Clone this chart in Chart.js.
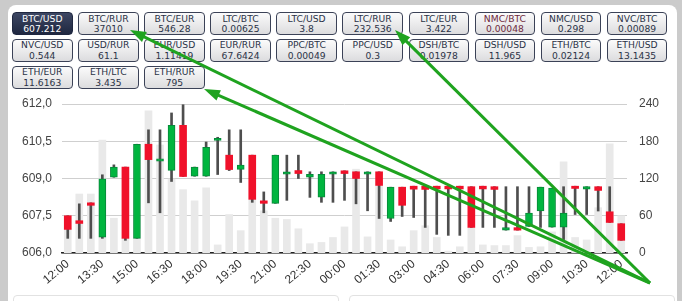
<!DOCTYPE html>
<html>
<head>
<meta charset="utf-8">
<script src="https://cdn.jsdelivr.net/npm/chart.js@4/dist/chart.umd.min.js"></script>
<style>
  html, body { margin:0; padding:0; }
  body { width:682px; height:301px; background:#cbcbcb; position:relative; overflow:hidden; font-family:"Liberation Sans", Arial, sans-serif; }
  #panel { position:absolute; left:8px; top:5px; width:669px; height:320px; background:#fff; border-radius:8px; }
  #buttons { position:absolute; left:12px; top:12px; display:grid; grid-template-columns:repeat(10, 60.5px); grid-auto-rows:23px; column-gap:5.6px; row-gap:3.8px; }
  .btn { box-sizing:border-box; border:1px solid #3b4257; border-radius:4px; background:linear-gradient(#fbfbfb, #dcdcde); color:#2b3347; font-family:"DejaVu Sans", Verdana, sans-serif; font-size:9.2px; line-height:10.5px; text-align:center; padding-top:0.5px; }
  .btn.sel { background:linear-gradient(#3d4763, #1f2740); color:#fff; border-color:#1f2740; }
  .btn.hot { color:#6e2a3c; }
  #chartbox { position:absolute; left:8px; top:95px; width:667px; height:200px; }
  .sub { position:absolute; top:295px; height:30px; background:#fff; border:1px solid #e2e2e2; border-radius:4px; }
  #arrows { position:absolute; left:0; top:0; width:682px; height:301px; pointer-events:none; }
</style>
</head>
<body>
<div id="panel"></div>
<div id="buttons"></div>
<div id="chartbox"><canvas id="c"></canvas></div>
<div class="sub" style="left:13px;width:324px;"></div>
<div class="sub" style="left:349px;width:324px;"></div>
<svg id="arrows" xmlns="http://www.w3.org/2000/svg"></svg>
<script>
// ---- data ----
const pairs = ["BTC/USD","BTC/RUR","BTC/EUR","LTC/BTC","LTC/USD","LTC/RUR","LTC/EUR","NMC/BTC","NMC/USD","NVC/BTC",
               "NVC/USD","USD/RUR","EUR/USD","EUR/RUR","PPC/BTC","PPC/USD","DSH/BTC","DSH/USD","ETH/BTC","ETH/USD",
               "ETH/EUR","ETH/LTC","ETH/RUR"];
const prices = ["607.212","37010","546.28","0.00625","3.8","232.536","3.422","0.00048","0.298","0.00089",
                "0.544","61.1","1.11419","67.6424","0.00049","0.3","0.01978","11.965","0.02124","13.1435",
                "11.6163","3.435","795"];

const times = ["12:00","12:30","13:00","13:30","14:00","14:30","15:00","15:30","16:00","16:30","17:00","17:30",
               "18:00","18:30","19:00","19:30","20:00","20:30","21:00","21:30","22:00","22:30","23:00","23:30",
               "00:00","00:30","01:00","01:30","02:00","02:30","03:00","03:30","04:00","04:30","05:00","05:30",
               "06:00","06:30","07:00","07:30","08:00","08:30","09:00","09:30","10:00","10:30","11:00","11:30","12:00"];

const openP  = [607.50,607.30,608.02,606.64,609.05,609.46,606.59,610.38,609.70,609.33,611.14,609.09,
                609.09,610.53,609.94,609.37,609.94,608.10,608.00,609.17,609.32,609.05,608.25,609.17,
                609.31,609.27,609.17,609.27,607.39,608.65,608.69,608.69,608.69,608.69,608.69,608.67,
                608.69,608.67,606.92,607.02,607.07,607.69,607.04,607.04,608.69,608.57,608.67,607.66,607.18];
const highP  = [607.50,607.98,608.02,609.15,609.55,609.46,610.38,610.96,610.96,611.64,611.97,609.46,
                610.47,610.66,610.96,610.96,609.94,608.46,609.94,609.94,609.94,609.27,609.27,609.27,
                609.31,609.27,609.27,609.27,608.65,608.65,608.69,608.69,608.69,608.69,608.69,608.67,
                608.69,608.67,608.67,608.67,608.67,608.65,608.61,608.67,608.69,608.67,608.67,608.67,607.18];
const lowP   = [606.59,606.59,606.59,606.59,609.05,606.51,606.59,608.02,607.62,608.88,609.08,609.09,
                609.09,609.16,609.32,608.84,608.04,607.62,608.00,608.12,609.00,608.24,608.04,608.04,
                608.12,607.98,607.70,607.39,607.27,607.47,607.43,607.03,606.75,606.71,606.71,607.03,
                607.03,607.03,606.92,606.92,607.07,607.03,607.04,606.54,607.55,607.55,607.69,607.23,606.51];
const closeP = [606.95,607.19,607.92,608.99,609.46,606.59,610.38,609.76,609.79,611.14,609.08,609.46,
                610.26,610.62,609.36,609.54,608.16,608.00,609.94,609.27,609.20,609.17,609.17,609.27,
                609.20,609.00,609.27,608.72,608.65,607.92,608.57,608.56,608.58,608.58,608.58,607.03,
                608.58,608.56,607.02,606.92,607.61,608.65,608.61,607.61,608.60,608.67,608.52,607.23,606.51];
const volume = [40,95,95,182,56,24,24,229,174,119,102,84,
                105,13,62,36,86,68,56,54,39,15,17,25,
                42,135,26,108,21,10,36,44,25,3,10,41,
                13,12,12,28,9,10,34,147,25,21,73,176,60];

const priceTicks = [606, 607.5, 609, 610.5, 612];
const volumeTicks = [0, 60, 120, 180, 240];

// ---- buttons ----
const bw = document.getElementById('buttons');
pairs.forEach((p, i) => {
  const d = document.createElement('div');
  d.className = 'btn' + (i === 0 ? ' sel' : '') + (p === 'NMC/BTC' ? ' hot' : '');
  d.innerHTML = p + '<br>' + prices[i];
  bw.appendChild(d);
});

// ---- chart ----
const up = (i) => closeP[i] >= openP[i];
const GREEN = '#00b53f', GREEN_B = '#07893a', RED = '#f0112a';
const noPad = (s) => { s.paddingTop = 0; s.paddingBottom = 0; s.paddingLeft = 0; s.paddingRight = 0; };

const chart = new Chart(document.getElementById('c'), {
  data: {
    labels: times,
    datasets: [
      { type:'bar', label:'Volume', yAxisID:'y1', data: volume, backgroundColor:'#e9e9e9',
        barThickness:7, grouped:false, order:3 },
      { type:'bar', label:'Wick', yAxisID:'y', data: times.map((_, i) => [lowP[i], highP[i]]),
        backgroundColor:'#4e4e4e', barThickness:2, grouped:false, order:2 },
      { type:'bar', label:'Body', yAxisID:'y', data: times.map((_, i) => [openP[i], closeP[i]]),
        backgroundColor: times.map((_, i) => up(i) ? GREEN : RED),
        borderColor: times.map((_, i) => up(i) ? GREEN_B : RED),
        borderWidth: times.map((_, i) => up(i) ? 1 : 0),
        borderSkipped:false, barThickness:7, grouped:false, order:1 }
    ]
  },
  options: {
    responsive:true, maintainAspectRatio:false, animation:false,
    layout:{ padding:{ top:9, left:0, right:0, bottom:0 } },
    plugins:{ legend:{ display:false }, tooltip:{ enabled:false } },
    scales:{
      x:{
        offset:true,
        grid:{ display:false, drawTicks:false },
        border:{ display:true, color:'#222', width:1.5 },
        ticks:{ autoSkip:false, maxRotation:40, minRotation:40, padding:4, color:'#333',
                font:{ family:'"Liberation Sans", Arial, sans-serif', size:12 },
                callback:function(v, i){ return i % 3 === 0 ? times[i] : ''; } },
        afterFit:(s) => { s.height = 42; noPad(s); }
      },
      y:{
        position:'left', min:606, max:612,
        grid:{ color:'#cfcfcf', drawTicks:false },
        border:{ display:false },
        afterBuildTicks:(s) => { s.ticks = priceTicks.map(v => ({ value:v })); },
        ticks:{ padding:10, color:'#444', font:{ family:'"Liberation Sans", Arial, sans-serif', size:12 },
                callback:(v) => v.toFixed(1).replace('.', ',') },
        afterFit:(s) => { s.width = 54; noPad(s); }
      },
      y1:{
        position:'right', min:0, max:240,
        grid:{ display:false, drawTicks:false },
        border:{ display:false },
        afterBuildTicks:(s) => { s.ticks = volumeTicks.map(v => ({ value:v })); },
        ticks:{ padding:12, color:'#444', font:{ family:'"Liberation Sans", Arial, sans-serif', size:12 } },
        afterFit:(s) => { s.width = 48; noPad(s); }
      }
    }
  }
});

// ---- annotation arrows (overlay) ----
(function(){
  const svg = document.getElementById('arrows');
  const NS = 'http://www.w3.org/2000/svg';
  const col = '#1fa31f';
  const from = [650, 283];
  const targets = [[130, 30], [395, 30], [204, 89]];
  targets.forEach(t => {
    const dx = t[0] - from[0], dy = t[1] - from[1];
    const L = Math.hypot(dx, dy), ux = dx / L, uy = dy / L;
    const hl = 16, hw = 5.5;
    const bx = t[0] - ux * hl, by = t[1] - uy * hl;
    const line = document.createElementNS(NS, 'line');
    line.setAttribute('x1', from[0]); line.setAttribute('y1', from[1]);
    line.setAttribute('x2', bx + ux * 2); line.setAttribute('y2', by + uy * 2);
    line.setAttribute('stroke', col); line.setAttribute('stroke-width', 3);
    svg.appendChild(line);
    const poly = document.createElementNS(NS, 'polygon');
    poly.setAttribute('points', [t[0], t[1], bx - uy * hw, by + ux * hw, bx + uy * hw, by - ux * hw].join(','));
    poly.setAttribute('fill', col);
    svg.appendChild(poly);
  });
})();
</script>
</body>
</html>
